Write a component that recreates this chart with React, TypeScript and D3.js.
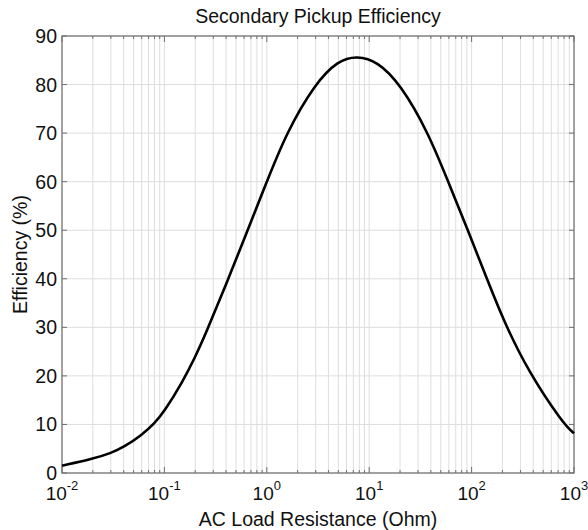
import React from "react";
import * as d3 from "d3";

const resistance = [0.01, 0.02, 0.03, 0.04, 0.06, 0.08, 0.1, 0.15, 0.2, 0.25, 0.4, 0.65, 1.0, 1.55, 2.95, 5, 7.6, 12, 20, 38, 59, 94, 141, 205, 355, 787, 1000];
const efficiency = [1.5, 2.9, 4.1, 5.3, 7.8, 10.2, 12.7, 18.7, 23.9, 28.4, 38.8, 50, 60, 70, 80.2, 85.0, 85.9, 84.8, 80.2, 70, 60, 49.5, 40, 31.4, 21.0, 10.1, 8.2];
const yTicks = [0, 10, 20, 30, 40, 50, 60, 70, 80, 90];
const xExponents = [-2, -1, 0, 1, 2, 3];
const titleText = "Secondary Pickup Efficiency";
const xLabel = "AC Load Resistance (Ohm)";
const yLabel = "Efficiency (%)";

const W = 588, H = 530;
const L = 62, T = 36, R = 574, B = 473;
const FONT = "'Liberation Sans', Arial, Helvetica, sans-serif";

export default function App() {
  const x = d3.scaleLog().domain([0.01, 1000]).range([L, R]);
  const y = d3.scaleLinear().domain([0, 90]).range([B, T]);

  const minor: number[] = [];
  for (let e = -2; e < 3; e++) {
    for (let m = 2; m <= 9; m++) minor.push(m * Math.pow(10, e));
  }
  const major = xExponents.map((e) => Math.pow(10, e));

  const pts = resistance.map((r, i) => [x(r), y(efficiency[i])] as [number, number]);
  const line = d3.line().curve(d3.curveBasis)(pts) || "";

  const gridColor = "#dedede";
  const axisColor = "#6e6e6e";

  return (
    <svg width={W} height={H} style={{ position: "absolute", left: 0, top: 0, background: "#fff" }}>
      <rect x={0} y={0} width={W} height={H} fill="#fff" />
      {minor.map((v, i) => (
        <line key={"gm" + i} x1={x(v)} x2={x(v)} y1={T} y2={B} stroke={gridColor} strokeWidth={1} />
      ))}
      {major.map((v, i) => (
        <line key={"gM" + i} x1={x(v)} x2={x(v)} y1={T} y2={B} stroke={gridColor} strokeWidth={1} />
      ))}
      {yTicks.map((v, i) => (
        <line key={"gy" + i} x1={L} x2={R} y1={y(v)} y2={y(v)} stroke={gridColor} strokeWidth={1} />
      ))}
      {minor.map((v, i) => (
        <g key={"tm" + i} stroke={axisColor} strokeWidth={1}>
          <line x1={x(v)} x2={x(v)} y1={B} y2={B - 3} />
          <line x1={x(v)} x2={x(v)} y1={T} y2={T + 3} />
        </g>
      ))}
      {major.map((v, i) => (
        <g key={"tM" + i} stroke={axisColor} strokeWidth={1}>
          <line x1={x(v)} x2={x(v)} y1={B} y2={B - 6} />
          <line x1={x(v)} x2={x(v)} y1={T} y2={T + 6} />
        </g>
      ))}
      {yTicks.map((v, i) => (
        <g key={"ty" + i} stroke={axisColor} strokeWidth={1}>
          <line x1={L} x2={L + 5} y1={y(v)} y2={y(v)} />
          <line x1={R} x2={R - 5} y1={y(v)} y2={y(v)} />
        </g>
      ))}
      <rect x={L} y={T} width={R - L} height={B - T} fill="none" stroke={axisColor} strokeWidth={1.2} />
      <path d={line} fill="none" stroke="#000" strokeWidth={2.6} strokeLinejoin="round" />
      {yTicks.map((v, i) => (
        <text key={"ly" + i} x={L - 5} y={y(v)} dy="0.36em" textAnchor="end" fontFamily={FONT} fontSize={19.5} fill="#111">
          {v}
        </text>
      ))}
      {xExponents.map((e, i) => (
        <text key={"lx" + i} x={x(Math.pow(10, e))} y={500} textAnchor="middle" fontFamily={FONT} fontSize={19} fill="#111">
          10
          <tspan dy={-10} fontSize={13}>{e}</tspan>
        </text>
      ))}
      <text x={(L + R) / 2} y={23} textAnchor="middle" fontFamily={FONT} fontSize={19.5} fill="#111">
        {titleText}
      </text>
      <text x={(L + R) / 2} y={526} textAnchor="middle" fontFamily={FONT} fontSize={19.5} fill="#111">
        {xLabel}
      </text>
      <text transform={`translate(27, ${(T + B) / 2}) rotate(-90)`} textAnchor="middle" fontFamily={FONT} fontSize={19.5} fill="#111">
        {yLabel}
      </text>
    </svg>
  );
}
